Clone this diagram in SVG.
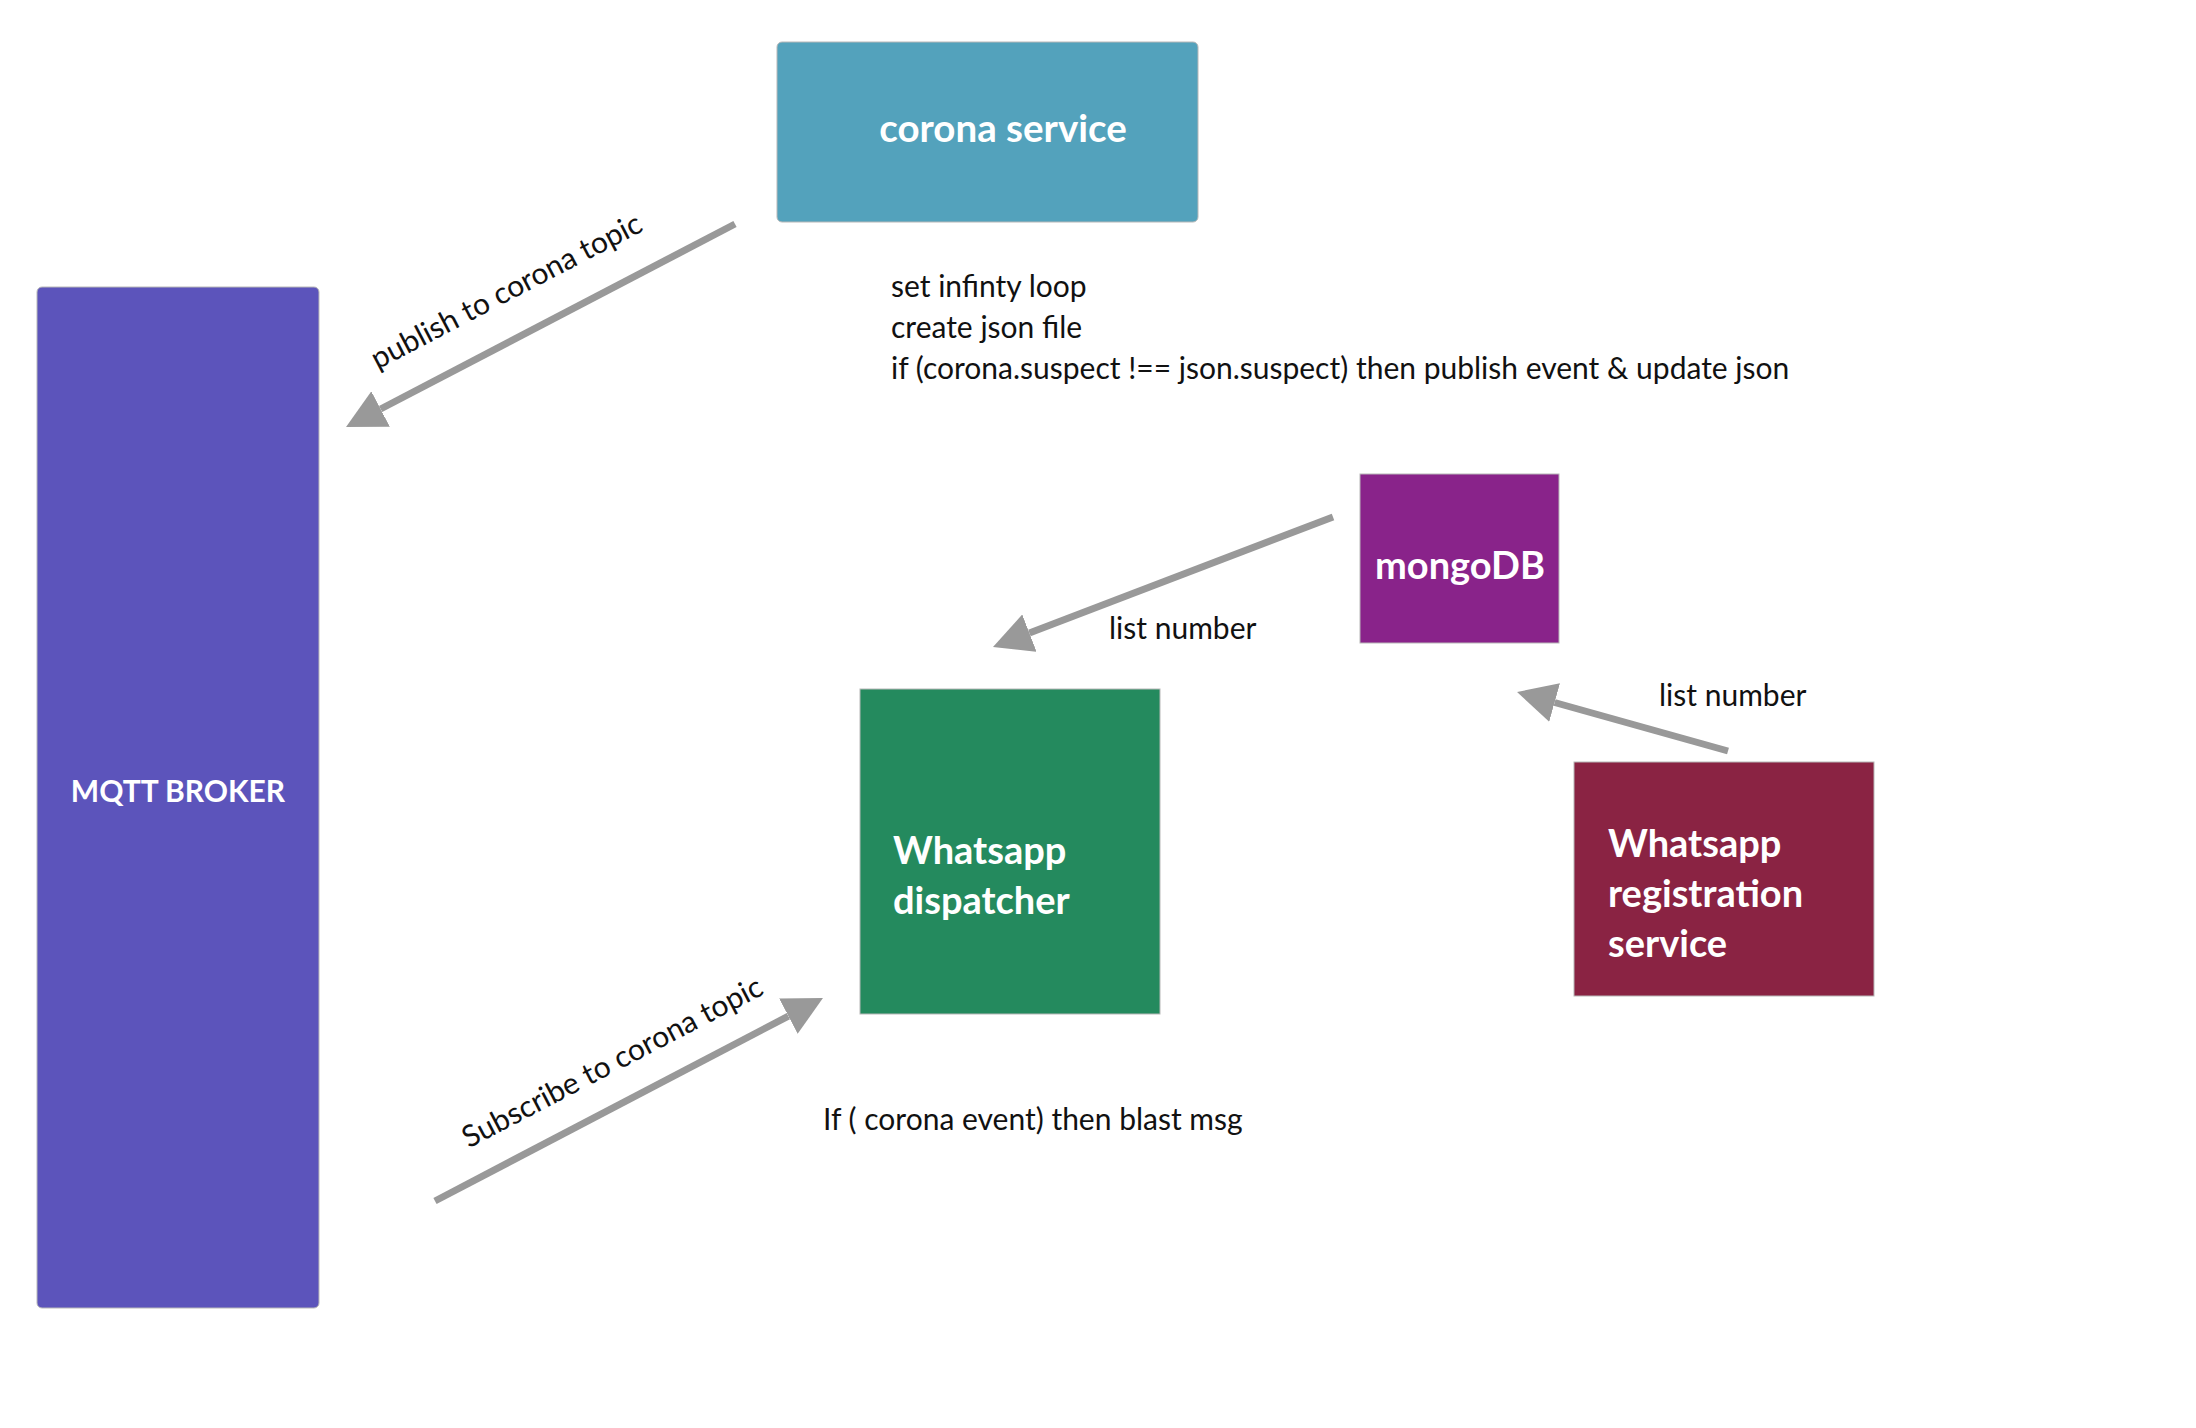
<svg xmlns="http://www.w3.org/2000/svg" width="2196" height="1428" viewBox="0 0 2196 1428">
  <defs>
    <style>
      .box { stroke: #b8b8b8; stroke-width: 1; }
      .lbl { fill: #ffffff; font-family: Lato, "Liberation Sans", sans-serif; font-weight: 700; }
      .txt { fill: #111111; font-family: Lato, "Liberation Sans", sans-serif; font-weight: 400; font-size: 30px; }
      .conn { stroke: #999999; stroke-width: 7; fill: none; marker-end: url(#ah); }
    </style>
    <marker id="ah" markerUnits="userSpaceOnUse" markerWidth="40" markerHeight="40" refX="0" refY="20" orient="auto" viewBox="0 0 40 40">
      <path d="M0,0 L39,20 L0,40 z" fill="#999999"/>
    </marker>
  </defs>
  <rect width="2196" height="1428" fill="#ffffff"/>

  <g id="corona-service">
    <rect class="box" x="777" y="42" width="421" height="180" rx="5" fill="#53A2BC"/>
    <text class="lbl" x="1003" y="142" font-size="38.5" text-anchor="middle">corona service</text>
  </g>

  <g id="mqtt-broker">
    <rect class="box" x="37" y="287" width="282" height="1021" rx="5" fill="#5C54BB"/>
    <text class="lbl" x="178" y="802" font-size="30" text-anchor="middle">MQTT BROKER</text>
  </g>

  <g id="mongodb">
    <rect class="box" x="1360" y="474" width="199" height="169" fill="#89238A"/>
    <text class="lbl" x="1460" y="579" font-size="38" text-anchor="middle">mongoDB</text>
  </g>

  <g id="whatsapp-dispatcher">
    <rect class="box" x="860" y="689" width="300" height="325" fill="#248A5E"/>
    <text class="lbl" x="893" y="864" font-size="38">Whatsapp</text>
    <text class="lbl" x="893" y="914" font-size="38">dispatcher</text>
  </g>

  <g id="whatsapp-registration">
    <rect class="box" x="1574" y="762" width="300" height="234" fill="#8A2343"/>
    <text class="lbl" x="1608" y="857" font-size="38">Whatsapp</text>
    <text class="lbl" x="1608" y="907" font-size="38">registration</text>
    <text class="lbl" x="1608" y="957" font-size="38">service</text>
  </g>

  <g id="notes">
    <text class="txt" x="891" y="297" >set infinty loop</text>
    <text class="txt" x="891" y="338">create json file</text>
    <text class="txt" x="891" y="379">if (corona.suspect !== json.suspect) then publish event &amp; update json</text>
    <text class="txt" x="823" y="1130">If ( corona event) then blast msg</text>
  </g>

  <g id="connectors">
    <line class="conn" x1="735" y1="224" x2="380.6" y2="409"/>
    <line class="conn" x1="1333" y1="517" x2="1029.4" y2="633.1"/>
    <line class="conn" x1="1728" y1="751" x2="1554.6" y2="702.5"/>
    <line class="conn" x1="435" y1="1201" x2="788.4" y2="1016.1"/>
    <text class="txt" text-anchor="middle" transform="translate(511,300) rotate(-27.6)">publish to corona topic</text>
    <text class="txt" text-anchor="middle" transform="translate(617,1071) rotate(-27.6)">Subscribe to corona topic</text>
    <text class="txt" x="1109" y="639">list number</text>
    <text class="txt" x="1659" y="706">list number</text>
  </g>
</svg>
